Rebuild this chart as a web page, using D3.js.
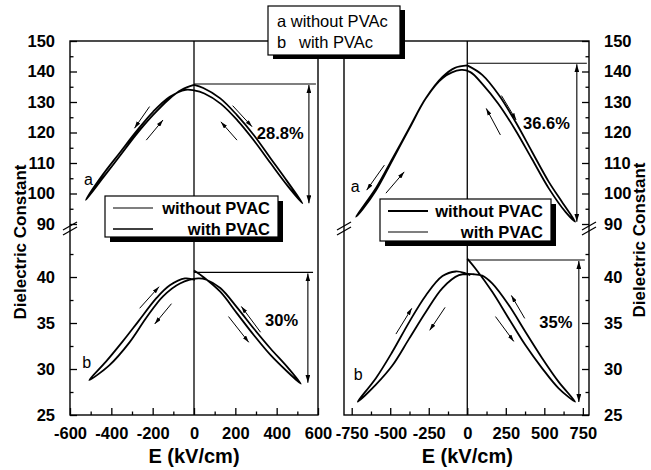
<!DOCTYPE html>
<html>
<head>
<meta charset="utf-8">
<script src="https://cdn.jsdelivr.net/npm/d3@7"></script>
<style>
body { margin: 0; background: #fff; }
svg { font-family: Arial, "Liberation Sans", sans-serif; }
</style>
</head>
<body>
<svg id="drawing_region"></svg>
<script>
// ---- tick values ----
const upperTicks = [90, 100, 110, 120, 130, 140, 150];
const upperMinor = [95, 105, 115, 125, 135, 145];
const lowerTicks = [25, 30, 35, 40];
const lowerMinor = [27.5, 32.5, 37.5, 42.5];
const leftXTicks = [-600, -400, -200, 0, 200, 400, 600];
const leftXMinor = [-500, -300, -100, 100, 300, 500];
const rightXTicks = [-750, -500, -250, 0, 250, 500, 750];
const rightXMinor = [-625, -375, -125, 125, 375, 625];

// ---- loops: [E (kV/cm), dielectric constant] in sweep order ----
const loopLeftA = [
    [0,135.6],[45,134.6],[127,131.2],[208,125.7],[289,119.2],[371,111.5],[452,103.9],[525,96.8],
    [452,102.6],[371,109.9],[290,117.4],[210,124.0],[130,129.4],[50,132.8],[0,133.8],[-40,134.0],
    [-117,131.7],[-198,126.8],[-280,120.3],[-361,113.2],[-442,106.1],[-523,97.9],
    [-440,105.2],[-360,112.2],[-280,119.3],[-200,125.6],[-120,131.0],[-60,134.0],[0,135.6]
];
const loopLeftB = [
    [0,40.7],[45,40.0],[127,38.4],[208,36.05],[289,33.7],[371,31.5],[452,29.7],[517,28.4],
    [452,30.2],[371,32.2],[289,34.4],[208,36.7],[127,38.8],[60,39.7],[20,39.85],
    [-68,39.3],[-150,37.9],[-230,35.6],[-312,32.9],[-410,30.4],[-507,28.8],
    [-426,30.8],[-345,33.0],[-272,35.1],[-182,37.7],[-117,39.1],[-44,39.85],[5,39.7]
];
const loopRightA = [
    [0,142.0],[97,138.9],[205,132.3],[313,123.5],[420,113.7],[528,103.9],[614,97.3],[700,90.8],
    [640,93.8],[530,101.6],[420,111.3],[310,121.0],[200,129.5],[100,135.8],[20,139.8],[-40,140.5],
    [-161,137.8],[-269,131.2],[-377,121.4],[-485,111.5],[-593,101.7],[-722,92.4],
    [-680,94.8],[-593,101.0],[-485,111.0],[-377,121.2],[-269,131.2],[-161,138.2],[-80,141.2],[0,142.0]
];
const loopRightB = [
    [0,42.0],[54,40.9],[162,38.4],[269,35.5],[377,32.6],[485,30.1],[593,27.9],[700,26.45],
    [593,28.6],[485,31.2],[377,34.05],[269,36.95],[162,39.3],[97,40.15],[43,40.3],[-54,40.2],
    [-161,38.8],[-269,36.2],[-377,33.3],[-485,30.4],[-593,28.3],[-711,26.45],
    [-593,29.0],[-485,31.9],[-377,35.1],[-269,38.0],[-161,40.1],[-75,40.6],[-11,40.4],[20,40.2]
];

// ---- annotations (data units) ----
// [E0, v0, E1, v1]
const arrowsLeftA  = [[-215,128.5,-288,121.4],[-231,117.5,-150,124.1],[187,128.8,281,121.9],[208,117.5,130,123.5]];
const arrowsLeftB  = [[-263,36.6,-169,38.95],[-109,37.1,-190,34.9],[167,35.7,265,32.9],[322,34.0,229,36.8]];
const arrowsRightA = [[222,132.1,317,124.1],[215,119.2,123,127.9],[-538,109.3,-653,101.1],[-528,100.1,-409,107.1]];
const arrowsRightB = [[-463,33.8,-360,36.6],[-144,36.7,-244,34.2],[183,35.7,302,33.0],[373,35.5,286,38.0]];
// [E end of level line, arrow E, v top, v bottom, label, label E, label v]
const spanLeftA  = [590, 556, 135.9, 96.8, "28.8%", 417, 119.8];
const spanLeftB  = [576, 551, 40.5, 28.5, "30%", 424, 35.3];
const spanRightA = [776, 711, 142.7, 90.7, "36.6%", 514, 123.1];
const spanRightB = [763, 724, 41.85, 26.4, "35%", 575, 35.1];
// curve letters [E, v, text]
const letterLeftA = [-532, 102.8, "a"];
const letterLeftB = [-541, 30.1, "b"];
const letterRightA = [-756, 100.5, "a"];
const letterRightB = [-737, 28.8, "b"];

const svg = d3.select('#drawing_region')
    .attr('width', 651)
    .attr('height', 470);

const defs = svg.append('defs');
defs.append('marker')
    .attr('id', 'head')
    .attr('viewBox', '0 0 10 6')
    .attr('refX', 10).attr('refY', 3)
    .attr('markerWidth', 7).attr('markerHeight', 4.5)
    .attr('markerUnits', 'userSpaceOnUse')
    .attr('orient', 'auto-start-reverse')
    .append('path').attr('d', 'M0,0L10,3L0,6Z').attr('fill', 'black');
defs.append('marker')
    .attr('id', 'head2')
    .attr('viewBox', '0 0 10 6')
    .attr('refX', 10).attr('refY', 3)
    .attr('markerWidth', 8).attr('markerHeight', 5)
    .attr('markerUnits', 'userSpaceOnUse')
    .attr('orient', 'auto-start-reverse')
    .append('path').attr('d', 'M0,0L10,3L0,6Z').attr('fill', 'black');

const frameTop = 41, frameBottom = 415;
const yUpper = d3.scaleLinear().domain([90, 150]).range([224, 41]);
const yLower = d3.scaleLinear().domain([25, 44.6]).range([415, 234.7]);
const fontFam = 'Arial, "Liberation Sans", sans-serif';

const panels = [
    { x: d3.scaleLinear().domain([-600, 600]).range([70, 318]), ticks: leftXTicks, minor: leftXMinor,
      side: 'left', loops: [loopLeftA, loopLeftB], arrows: [arrowsLeftA, arrowsLeftB],
      spans: [spanLeftA, spanLeftB], letters: [letterLeftA, letterLeftB] },
    { x: d3.scaleLinear().domain([-800, 790]).range([344, 589]), ticks: rightXTicks, minor: rightXMinor,
      side: 'right', loops: [loopRightA, loopRightB], arrows: [arrowsRightA, arrowsRightB],
      spans: [spanRightA, spanRightB], letters: [letterRightA, letterRightB] }
];

panels.forEach(p => {
    const g = svg.append('g');
    const x0 = p.x.range()[0], x1 = p.x.range()[1];
    const ys = [yUpper, yLower];

    // frame
    g.append('rect')
        .attr('x', x0).attr('y', frameTop)
        .attr('width', x1 - x0).attr('height', frameBottom - frameTop)
        .attr('fill', 'none').attr('stroke', 'black').attr('stroke-width', 1.4);

    // zero line
    g.append('line')
        .attr('x1', p.x(0)).attr('x2', p.x(0))
        .attr('y1', frameTop).attr('y2', frameBottom)
        .attr('stroke', 'black').attr('stroke-width', 1.3);

    // x axis (inward ticks)
    const xg = g.append('g').attr('transform', `translate(0,${frameBottom})`);
    xg.call(d3.axisBottom(p.x).tickValues(p.minor).tickSize(-3.5).tickFormat(''))
      .call(a => a.select('.domain').remove());
    xg.append('g').call(d3.axisBottom(p.x).tickValues(p.ticks).tickSize(-7).tickPadding(12).tickFormat(d => String(d)))
      .call(a => a.select('.domain').remove())
      .call(a => a.selectAll('text').attr('font-size', 16.5).attr('font-weight', 'bold')
            .attr('fill', 'black').attr('font-family', fontFam));
    xg.selectAll('line').attr('stroke', 'black').attr('stroke-width', 1.3);

    // y axes
    const axisX = p.side === 'left' ? x0 : x1;
    const mk = p.side === 'left' ? d3.axisLeft : d3.axisRight;
    [[yUpper, upperTicks, upperMinor], [yLower, lowerTicks, lowerMinor]].forEach(([ys_, maj, mn]) => {
        const yg = g.append('g').attr('transform', `translate(${axisX},0)`);
        yg.call(mk(ys_).tickValues(mn).tickSize(-3.5).tickFormat(''))
          .call(a => a.select('.domain').remove());
        yg.append('g').call(mk(ys_).tickValues(maj).tickSize(-7).tickPadding(15).tickFormat(d => String(d)))
          .call(a => a.select('.domain').remove())
          .call(a => a.selectAll('text').attr('font-size', 16.5).attr('font-weight', 'bold')
                .attr('fill', 'black').attr('font-family', fontFam));
        yg.selectAll('line').attr('stroke', 'black').attr('stroke-width', 1.3);
    });

    // axis breaks
    const breaks = p.side === 'left' ? [x0] : [x0, x1];
    breaks.forEach(bx => {
        [226, 231].forEach(by => {
            g.append('line')
                .attr('x1', bx - 7).attr('y1', by + 4)
                .attr('x2', bx + 7).attr('y2', by - 4)
                .attr('stroke', 'black').attr('stroke-width', 1.3);
        });
    });

    // loops
    p.loops.forEach((loop, i) => {
        const line = d3.line()
            .x(d => p.x(d[0]))
            .y(d => ys[i](d[1]))
            .curve(d3.curveCatmullRom.alpha(0.5));
        g.append('path')
            .datum(loop)
            .attr('d', line)
            .attr('fill', 'none')
            .attr('stroke', 'black')
            .attr('stroke-width', 1.8);
    });

    // sweep direction arrows
    p.arrows.forEach((set, i) => {
        g.selectAll(null).data(set).enter().append('line')
            .attr('x1', d => p.x(d[0])).attr('y1', d => ys[i](d[1]))
            .attr('x2', d => p.x(d[2])).attr('y2', d => ys[i](d[3]))
            .attr('stroke', 'black').attr('stroke-width', 1)
            .attr('marker-end', 'url(#head)');
    });

    // spans with percentages
    p.spans.forEach((s, i) => {
        const y = ys[i];
        g.append('line')
            .attr('x1', p.x(0)).attr('x2', p.x(s[0]))
            .attr('y1', y(s[2])).attr('y2', y(s[2]))
            .attr('stroke', 'black').attr('stroke-width', 1.2);
        g.append('line')
            .attr('x1', p.x(s[1])).attr('x2', p.x(s[1]))
            .attr('y1', y(s[2]) + 1).attr('y2', y(s[3]))
            .attr('stroke', 'black').attr('stroke-width', 1.1)
            .attr('marker-start', 'url(#head2)')
            .attr('marker-end', 'url(#head2)');
        g.append('text')
            .attr('x', p.x(s[5])).attr('y', y(s[6]))
            .attr('dy', '0.36em')
            .attr('text-anchor', 'middle')
            .attr('font-size', 16.5).attr('font-weight', 'bold')
            .text(s[4]);
    });

    p.letters.forEach((l, i) => {
        g.append('text')
            .attr('x', p.x(l[0])).attr('y', ys[i](l[1]))
            .attr('font-size', 16)
            .text(l[2]);
    });

    // x title
    g.append('text')
        .attr('x', p.x(0)).attr('y', 463)
        .attr('text-anchor', 'middle')
        .attr('font-size', 20).attr('font-weight', 'bold')
        .text('E (kV/cm)');
});

// y titles
[[20, 242], [639, 240]].forEach(([tx, ty]) => {
    svg.append('text')
        .attr('transform', `translate(${tx},${ty}) rotate(-90)`)
        .attr('text-anchor', 'middle')
        .attr('dy', '0.36em')
        .attr('font-size', 17).attr('font-weight', 'bold')
        .text('Dielectric Constant');
});

// legend boxes
function legendBox(x, y, w, h, rows) {
    const g = svg.append('g');
    g.append('rect').attr('x', x + 5).attr('y', y + 5).attr('width', w).attr('height', h).attr('fill', 'black');
    g.append('rect').attr('x', x).attr('y', y).attr('width', w).attr('height', h)
        .attr('fill', 'white').attr('stroke', 'black').attr('stroke-width', 1.2);
    rows.forEach((r, i) => {
        const cy = y + 12 + i * 21;
        g.append('line')
            .attr('x1', x + 8).attr('x2', x + 48)
            .attr('y1', cy).attr('y2', cy)
            .attr('stroke', 'black').attr('stroke-width', r[1]);
        g.append('text')
            .attr('x', x + w - 8).attr('y', cy).attr('dy', '0.36em')
            .attr('text-anchor', 'end')
            .attr('font-size', 16.5).attr('font-weight', 'bold')
            .text(r[0]);
    });
}
legendBox(105, 196, 173, 41, [['without PVAC', 1.2], ['with PVAC', 1.7]]);
legendBox(380, 199, 171, 42, [['without PVAC', 1.8], ['with PVAC', 1.2]]);

// sample key box
const kg = svg.append('g');
kg.append('rect').attr('x', 273).attr('y', 10).attr('width', 132).attr('height', 49).attr('fill', 'black');
kg.append('rect').attr('x', 268).attr('y', 6).attr('width', 132).attr('height', 49)
    .attr('fill', 'white').attr('stroke', 'black').attr('stroke-width', 1.2);
kg.append('text').attr('x', 277).attr('y', 27).attr('font-size', 16.5).text('a without PVAc');
kg.append('text').attr('x', 277).attr('y', 48).attr('font-size', 16.5).text('b');
kg.append('text').attr('x', 299).attr('y', 48).attr('font-size', 16.5).text('with PVAc');
</script>
</body>
</html>
